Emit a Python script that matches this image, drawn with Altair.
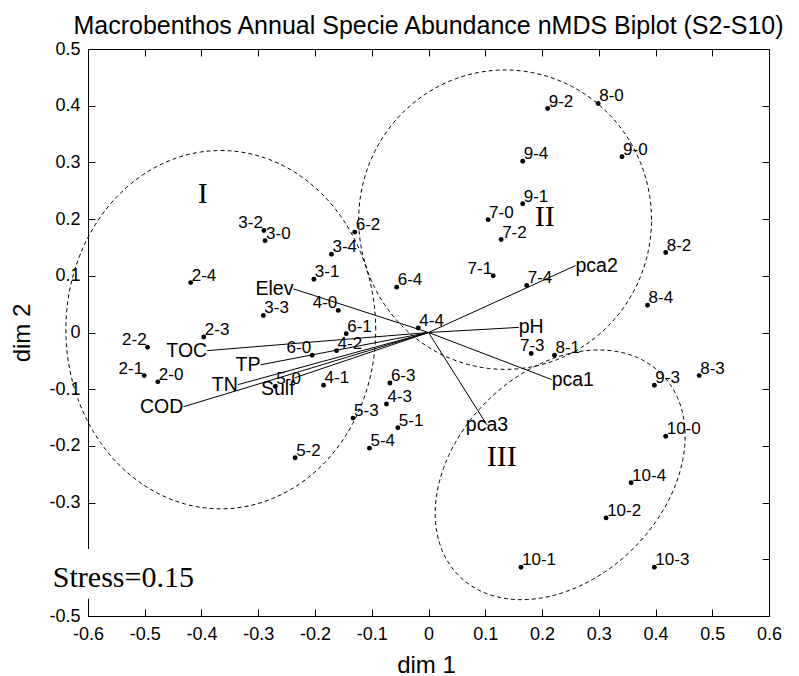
import altair as alt
import numpy as np
import pandas as pd

# ---------------- data ----------------
sites = ["2-0", "2-1", "2-2", "2-3", "2-4",
         "3-0", "3-1", "3-2", "3-3", "3-4",
         "4-0", "4-1", "4-2", "4-3", "4-4",
         "5-0", "5-1", "5-2", "5-3", "5-4",
         "6-0", "6-1", "6-2", "6-3", "6-4",
         "7-0", "7-1", "7-2", "7-3", "7-4",
         "8-0", "8-1", "8-2", "8-3", "8-4",
         "9-0", "9-1", "9-2", "9-3", "9-4",
         "10-0", "10-1", "10-2", "10-3", "10-4"]
dim1 = [-0.477, -0.501, -0.495, -0.396, -0.419,
        -0.288, -0.202, -0.290, -0.291, -0.171,
        -0.159, -0.185, -0.162, -0.074, -0.018,
        -0.270, -0.054, -0.235, -0.133, -0.104,
        -0.205, -0.145, -0.130, -0.068, -0.056,
        0.105, 0.114, 0.128, 0.181, 0.173,
        0.299, 0.222, 0.418, 0.477, 0.386,
        0.341, 0.166, 0.210, 0.398, 0.166,
        0.418, 0.163, 0.313, 0.398, 0.357]
dim2 = [-0.087, -0.076, -0.026, -0.008, 0.088,
        0.162, 0.094, 0.180, 0.030, 0.138,
        0.039, -0.093, -0.032, -0.126, 0.008,
        -0.095, -0.168, -0.221, -0.151, -0.204,
        -0.040, -0.002, 0.177, -0.089, 0.080,
        0.199, 0.100, 0.164, -0.037, 0.083,
        0.404, -0.040, 0.141, -0.076, 0.048,
        0.310, 0.227, 0.395, -0.093, 0.302,
        -0.183, -0.414, -0.327, -0.414, -0.265]
label_align = ["left", "right", "right", "left", "left",
               "left", "left", "right", "left", "left",
               "right", "left", "left", "left", "left",
               "left", "left", "left", "left", "left",
               "right", "left", "left", "left", "left",
               "left", "right", "left", "center", "left",
               "left", "left", "left", "left", "left",
               "left", "left", "left", "left", "left",
               "left", "left", "left", "left", "left"]

env_names = ["pca1", "pca2", "pca3", "pH", "Elev", "TOC", "TP", "TN", "Sulf", "COD"]
env_x = [0.217, 0.259, 0.103, 0.159, -0.238, -0.390, -0.296, -0.336, -0.236, -0.432]
env_y = [-0.083, 0.118, -0.163, 0.009, 0.077, -0.032, -0.057, -0.092, -0.080, -0.131]
env_align = ["left", "left", "center", "left", "right", "right", "right", "right", "right", "right"]

group_names = ["I", "II", "III"]
group_x = [-0.398, 0.205, 0.129]
group_y = [0.245, 0.203, -0.220]

ell_names = ["I", "II", "III"]
ell_cx = [-0.366, 0.135, 0.232]
ell_cy = [0.005, 0.199, -0.251]
ell_a = [0.273, 0.258, 0.252]
ell_b = [0.316, 0.264, 0.183]
ell_angle = [0, 0, 45]

x_ticks = [-0.6, -0.5, -0.4, -0.3, -0.2, -0.1, 0.0, 0.1, 0.2, 0.3, 0.4, 0.5, 0.6]
y_ticks = [-0.5, -0.4, -0.3, -0.2, -0.1, 0.0, 0.1, 0.2, 0.3, 0.4, 0.5]

title_text = "Macrobenthos Annual Specie Abundance nMDS Biplot (S2-S10)"
stress_text = "Stress=0.15"

# ---------------- tables ----------------
pts = pd.DataFrame({"site": sites, "x": dim1, "y": dim2, "al": label_align})
env = pd.DataFrame({"name": env_names, "vx": env_x, "vy": env_y, "al": env_align})
env["x0"] = 0.0
env["y0"] = 0.0
grp = pd.DataFrame({"g": group_names, "x": group_x, "y": group_y})

rows = []
t = np.linspace(0, 2 * np.pi, 241)
for n, cx, cy, a, b, ang in zip(ell_names, ell_cx, ell_cy, ell_a, ell_b, ell_angle):
    th = np.deg2rad(ang)
    ex = cx + a * np.cos(t) * np.cos(th) - b * np.sin(t) * np.sin(th)
    ey = cy + a * np.cos(t) * np.sin(th) + b * np.sin(t) * np.cos(th)
    for k, (xx, yy) in enumerate(zip(ex, ey)):
        rows.append({"ellipse": n, "k": k, "ex": xx, "ey": yy})
ell = pd.DataFrame(rows)

box = pd.DataFrame({"x1": [-0.673], "x2": [-0.396], "y1": [-0.382], "y2": [-0.4695]})
stress = pd.DataFrame({"x": [-0.662], "y": [-0.448], "t": [stress_text]})

# ---------------- chart ----------------
W, H = 681, 567
FONT = "Liberation Sans"
SERIF = "Liberation Serif"
xs = alt.Scale(domain=[-0.6, 0.6], nice=False, zero=False)
ys = alt.Scale(domain=[-0.5, 0.5], nice=False, zero=False)
lab_expr = "abs(datum.value) < 1e-9 ? '0' : (datum.value < 0 ? '-' : '') + format(abs(datum.value), '.1f')"


def tick_axis(orient, vals):
    return alt.Axis(orient=orient, offset=-7, values=vals, ticks=True, tickSize=7,
                    tickColor="black", tickWidth=1, labels=False, domain=False,
                    grid=False, title=None)


x_lab_axis = alt.Axis(orient="bottom", values=x_ticks, labelExpr=lab_expr, ticks=False,
                      tickSize=0, domain=False, grid=False, labelFont=FONT,
                      labelFontSize=18, labelColor="black", labelPadding=9,
                      labelFlush=False, labelOverlap=False, title="dim 1",
                      titleFont=FONT, titleFontSize=24, titleFontWeight="normal",
                      titleColor="black", titleBaseline="alphabetic", titleY=56,
                      titleX=338, titleAlign="center")
y_lab_axis = alt.Axis(orient="left", values=y_ticks, labelExpr=lab_expr, ticks=False,
                      tickSize=0, domain=False, grid=False, labelFont=FONT,
                      labelFontSize=18, labelColor="black", labelPadding=8,
                      labelFlush=False, labelOverlap=False, title="dim 2",
                      titleFont=FONT, titleFontSize=24, titleFontWeight="normal",
                      titleColor="black", titleBaseline="alphabetic", titleX=-59,
                      titleY=H / 2, titleAlign="center", titleAngle=270)

ellipses = alt.Chart(ell).mark_line(color="black", strokeWidth=1, strokeDash=[4, 3]).encode(
    x=alt.X("ex:Q", scale=xs, axis=tick_axis("bottom", x_ticks)),
    y=alt.Y("ey:Q", scale=ys, axis=tick_axis("left", y_ticks)),
    detail="ellipse:N",
    order="k:Q",
)

vectors = alt.Chart(env).mark_rule(color="black", strokeWidth=1).encode(
    x=alt.X("x0:Q", scale=xs, axis=tick_axis("top", x_ticks)),
    y=alt.Y("y0:Q", scale=ys, axis=tick_axis("right", y_ticks)),
    x2="vx:Q",
    y2="vy:Q",
)

points = alt.Chart(pts).mark_circle(color="black", size=24, opacity=1).encode(
    x=alt.X("x:Q", scale=xs, axis=x_lab_axis),
    y=alt.Y("y:Q", scale=ys, axis=y_lab_axis),
)


def site_labels(al, dx):
    return alt.Chart(pts).transform_filter(alt.datum.al == al).mark_text(
        align=al, baseline="alphabetic", dx=dx, dy=-2, font=FONT, fontSize=17, color="black"
    ).encode(
        x=alt.X("x:Q", scale=xs, axis=None),
        y=alt.Y("y:Q", scale=ys, axis=None),
        text="site:N",
    )


def env_labels(al, cond, dy):
    return alt.Chart(env).transform_filter(cond).mark_text(
        align=al, baseline="middle", dy=dy, font=FONT, fontSize=19.5, color="black"
    ).encode(
        x=alt.X("vx:Q", scale=xs, axis=None),
        y=alt.Y("vy:Q", scale=ys, axis=None),
        text="name:N",
    )


lab_left = site_labels("left", 1)
lab_right = site_labels("right", -1)
lab_center = site_labels("center", 1)

env_left = env_labels("left", alt.datum.al == "left", 0)
env_center = env_labels("center", alt.datum.al == "center", 0)
env_right = env_labels("right", (alt.datum.al == "right") & (alt.datum.name != "Sulf"), 0)
env_sulf = env_labels("right", alt.datum.name == "Sulf", 11)

groups = alt.Chart(grp).mark_text(
    align="center", baseline="middle", font=SERIF, fontSize=30, color="black"
).encode(
    x=alt.X("x:Q", scale=xs, axis=None),
    y=alt.Y("y:Q", scale=ys, axis=None),
    text="g:N",
)

white_box = alt.Chart(box).mark_rect(color="white", opacity=1).encode(
    x=alt.X("x1:Q", scale=xs, axis=None),
    x2="x2:Q",
    y=alt.Y("y1:Q", scale=ys, axis=None),
    y2="y2:Q",
)

stress_lbl = alt.Chart(stress).mark_text(
    align="left", baseline="alphabetic", font=SERIF, fontSize=30, color="black"
).encode(
    x=alt.X("x:Q", scale=xs, axis=None),
    y=alt.Y("y:Q", scale=ys, axis=None),
    text="t:N",
)

chart = alt.layer(
    ellipses, vectors, points, lab_left, lab_right, lab_center,
    env_left, env_center, env_right, env_sulf, groups, white_box, stress_lbl
).resolve_axis(
    x="independent", y="independent"
).properties(
    width=W,
    height=H,
    autosize=alt.AutoSizeParams(type="none"),
    padding={"left": 80, "top": 41, "right": 22, "bottom": 58},
    title=alt.TitleParams(text=title_text, font=FONT, fontSize=25, fontWeight="normal",
                          color="black", anchor="middle", frame="group",
                          baseline="alphabetic", offset=12, dy=31),
).configure_view(
    stroke="black", strokeWidth=1
)

chart.save("out.html", embed_options={"renderer": "svg", "actions": False})
